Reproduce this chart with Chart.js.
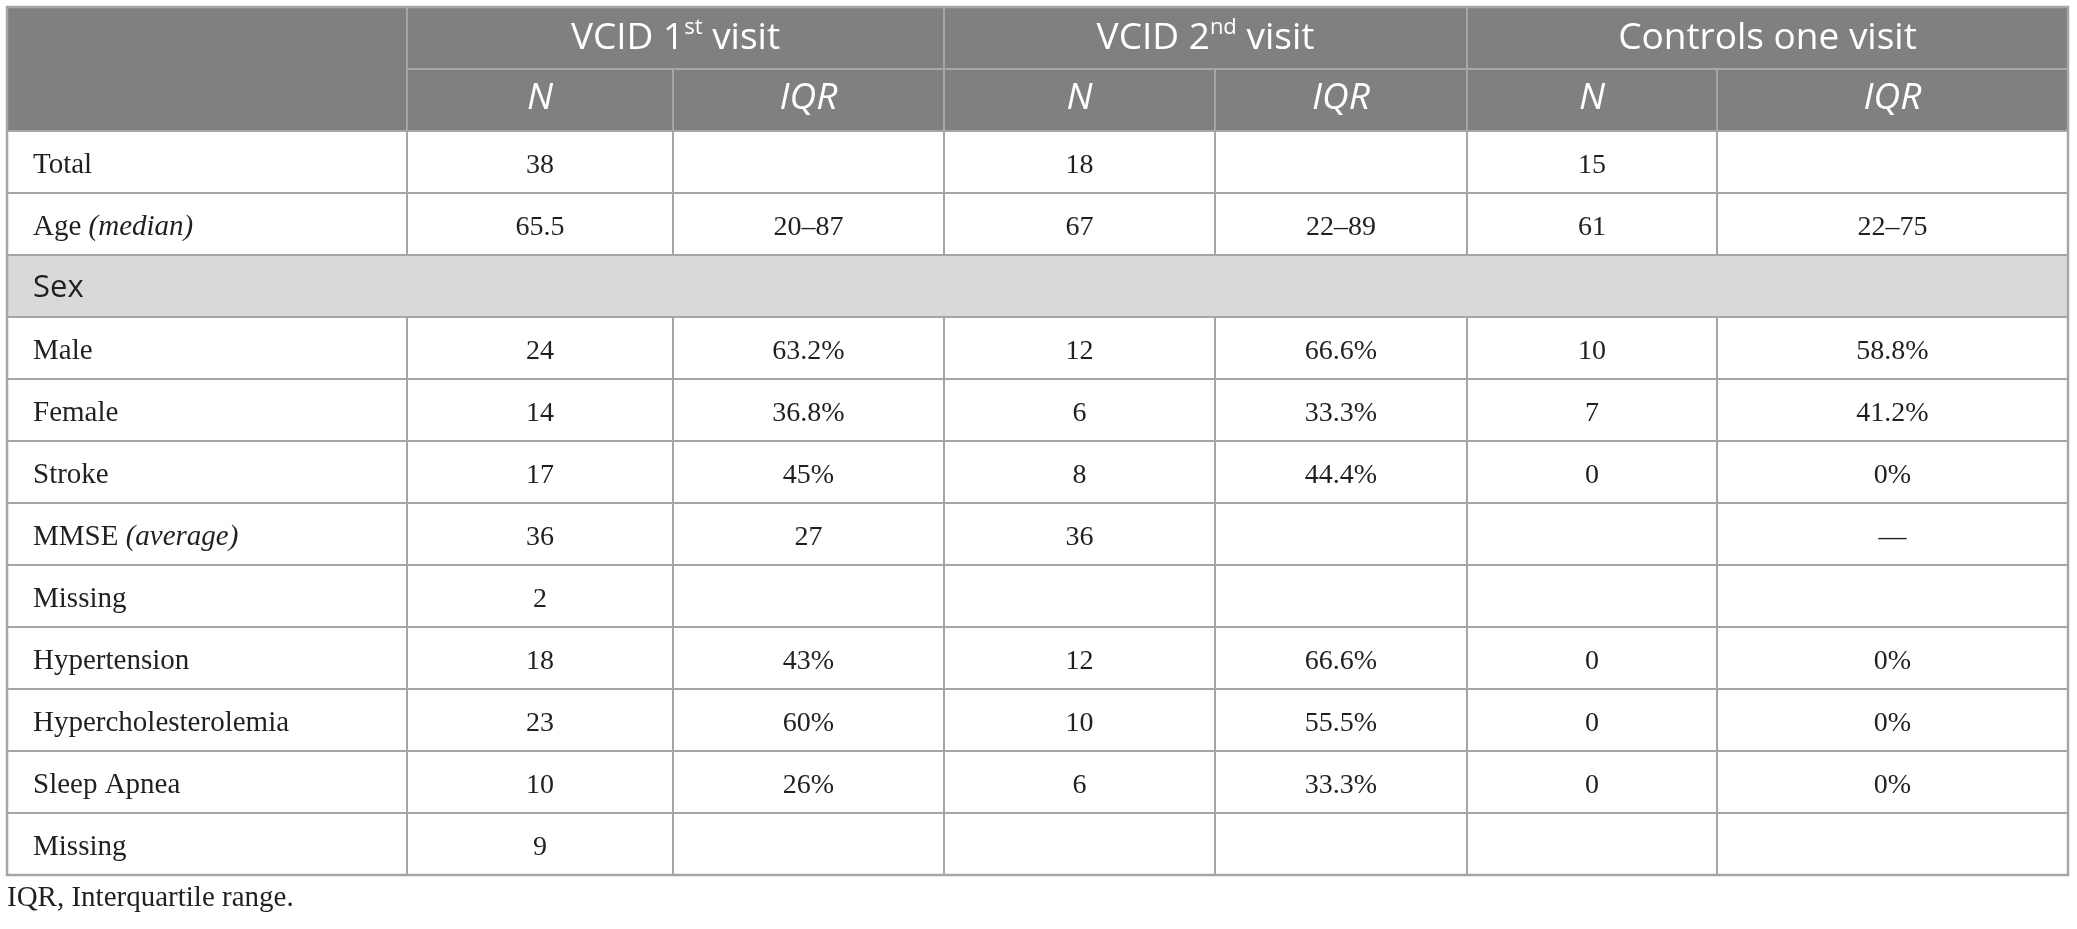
<!DOCTYPE html>
<html>
<head>
<meta charset="utf-8">
<script src="https://cdn.jsdelivr.net/npm/chart.js@4.4.1/dist/chart.umd.min.js"></script>
<style>
  html, body { margin: 0; padding: 0; background: #ffffff; }
  #wrap { width: 2077px; height: 929px; }
</style>
</head>
<body>
<div id="wrap"><canvas id="c" width="2077" height="929"></canvas></div>
<script>
// ---- Table content (data) ----
const groupHeaders = ['VCID 1^st^ visit', 'VCID 2^nd^ visit', 'Controls one visit'];
const subHeaders = ['N', 'IQR'];
const rowLabels = ['Total', 'Age (median)', 'Sex', 'Male', 'Female', 'Stroke', 'MMSE (average)',
                   'Missing', 'Hypertension', 'Hypercholesterolemia', 'Sleep Apnea', 'Missing'];
const sectionRows = ['Sex'];
const vcid1N   = ['38', '65.5', null, '24', '14', '17', '36', '2', '18', '23', '10', '9'];
const vcid1IQR = ['', '20–87', null, '63.2%', '36.8%', '45%', '27', '', '43%', '60%', '26%', ''];
const vcid2N   = ['18', '67', null, '12', '6', '8', '36', '', '12', '10', '6', ''];
const vcid2IQR = ['', '22–89', null, '66.6%', '33.3%', '44.4%', '', '', '66.6%', '55.5%', '33.3%', ''];
const ctrlN    = ['15', '61', null, '10', '7', '0', '', '', '0', '0', '0', ''];
const ctrlIQR  = ['', '22–75', null, '58.8%', '41.2%', '0%', '—', '', '0%', '0%', '0%', ''];
const footnote = 'IQR, Interquartile range.';

// ---- Layout / style (not data) ----
const colWeights = [400, 266, 271, 271, 252, 250, 351];
const valueCols = [vcid1N, vcid1IQR, vcid2N, vcid2IQR, ctrlN, ctrlIQR];
const C = {
  headerBg: '#808080', sectionBg: '#d9d9d9', line: '#a6a6a6', text: '#231f20',
  headFont: '"Open Sans", sans-serif', bodyFont: '"Liberation Serif", "Times New Roman", serif'
};

const yKeys = ['hdr1', 'hdr2'].concat(rowLabels.map((r, i) => i + ':' + r));
const colTotal = colWeights.reduce((a, b) => a + b, 0);
const colEdges = colWeights.reduce((acc, w) => { acc.push(acc[acc.length - 1] + w); return acc; }, [0]);

function parseRuns(str, baseFont, size, italicParens) {
  const runs = [];
  const parts = str.split('^');
  parts.forEach((p, i) => {
    if (!p) return;
    if (i % 2 === 1) { runs.push({ t: p, font: `${Math.round(size * 0.6)}px ${baseFont}`, rise: size * 0.4 }); return; }
    if (italicParens) {
      const re = /(\([^)]*\))/g;
      p.split(re).forEach(q => {
        if (!q) return;
        const it = q.startsWith('(');
        runs.push({ t: q, font: `${it ? 'italic ' : ''}${size}px ${baseFont}`, rise: 0 });
      });
    } else {
      runs.push({ t: p, font: `${size}px ${baseFont}`, rise: 0 });
    }
  });
  return runs;
}

function drawRuns(ctx, runs, x, y, align, color) {
  let total = 0;
  runs.forEach(r => { ctx.font = r.font; r.w = ctx.measureText(r.t).width; total += r.w; });
  let cx = align === 'center' ? x - total / 2 : x;
  ctx.fillStyle = color;
  ctx.textBaseline = 'alphabetic';
  ctx.textAlign = 'left';
  runs.forEach(r => { ctx.font = r.font; ctx.fillText(r.t, cx, y - r.rise); cx += r.w; });
}

const tablePlugin = {
  id: 'tableDraw',
  afterDraw(chart) {
    const ctx = chart.ctx;
    const xs = chart.scales.x, ys = chart.scales.y;
    const X = v => xs.getPixelForValue(v);
    const band = Math.abs(ys.getPixelForValue(1) - ys.getPixelForValue(0));
    const rowTop = i => ys.getPixelForValue(i) - band / 2;
    const rowBot = i => ys.getPixelForValue(i) + band / 2;
    const left = X(0), right = X(colTotal);
    const nRows = yKeys.length;

    ctx.save();
    ctx.fillStyle = C.headerBg;
    ctx.fillRect(left, rowTop(0), right - left, rowBot(1) - rowTop(0));
    rowLabels.forEach((lab, i) => {
      if (sectionRows.includes(lab) && valueCols[0][i] === null) {
        ctx.fillStyle = C.sectionBg;
        ctx.fillRect(left, rowTop(i + 2), right - left, band);
      }
    });

    ctx.strokeStyle = C.line;
    ctx.lineWidth = 2;
    const hl = (x1, x2, y) => { ctx.beginPath(); ctx.moveTo(x1, y); ctx.lineTo(x2, y); ctx.stroke(); };
    const vl = (x, y1, y2) => { ctx.beginPath(); ctx.moveTo(x, y1); ctx.lineTo(x, y2); ctx.stroke(); };
    hl(X(colEdges[1]), right, rowBot(0));
    vl(X(colEdges[1]), rowTop(0), rowBot(1));
    vl(X(colEdges[3]), rowTop(0), rowBot(1));
    vl(X(colEdges[5]), rowTop(0), rowBot(1));
    [2, 4, 6].forEach(k => vl(X(colEdges[k]), rowTop(1), rowBot(1)));
    for (let r = 2; r < nRows; r++) {
      hl(left, right, rowTop(r));
      const isSection = valueCols[0][r - 2] === null;
      if (!isSection) {
        for (let k = 1; k < colEdges.length - 1; k++) vl(X(colEdges[k]), rowTop(r), rowBot(r));
      }
    }
    ctx.lineWidth = 2.5;
    ctx.strokeRect(left, rowTop(0), right - left, rowBot(nRows - 1) - rowTop(0));

    const hSize = 37;
    groupHeaders.forEach((g, gi) => {
      const cx = (X(colEdges[1 + gi * 2]) + X(colEdges[3 + gi * 2])) / 2;
      const cy = ys.getPixelForValue(0);
      drawRuns(ctx, parseRuns(g, C.headFont, hSize, false), cx, cy + 11, 'center', '#ffffff');
    });
    for (let k = 1; k < colEdges.length - 1; k++) {
      const cx = (X(colEdges[k]) + X(colEdges[k + 1])) / 2;
      const cy = ys.getPixelForValue(1);
      drawRuns(ctx, [{ t: subHeaders[(k - 1) % 2], font: `italic ${hSize}px ${C.headFont}`, rise: 0 }], cx, cy + 9, 'center', '#ffffff');
    }

    rowLabels.forEach((lab, i) => {
      const cy = ys.getPixelForValue(i + 2);
      const isSection = valueCols[0][i] === null;
      if (isSection) {
        drawRuns(ctx, [{ t: lab, font: `31px ${C.headFont}`, rise: 0 }], X(colEdges[0]) + 26, cy + 11, 'left', C.text);
        return;
      }
      drawRuns(ctx, parseRuns(lab, C.bodyFont, 29, true), X(colEdges[0]) + 26, cy + 11, 'left', C.text);
      valueCols.forEach((col, k) => {
        const v = col[i];
        if (!v) return;
        const cx = (X(colEdges[k + 1]) + X(colEdges[k + 2])) / 2;
        drawRuns(ctx, [{ t: v, font: `28px ${C.bodyFont}`, rise: 0 }], cx, cy + 11, 'center', C.text);
      });
    });

    drawRuns(ctx, [{ t: footnote, font: `29px ${C.bodyFont}`, rise: 0 }], left, rowBot(nRows - 1) + 31, 'left', C.text);
    ctx.restore();
  }
};

function build() {
  new Chart(document.getElementById('c'), {
    type: 'scatter',
    data: { labels: yKeys, datasets: [] },
    options: {
      responsive: false,
      animation: false,
      devicePixelRatio: 1,
      layout: { padding: { left: 7, top: 7, right: 9, bottom: 54 } },
      plugins: { legend: { display: false }, tooltip: { enabled: false }, title: { display: false } },
      scales: {
        x: { type: 'linear', min: 0, max: colTotal, display: false },
        y: { type: 'category', labels: yKeys, offset: true, display: false }
      }
    },
    plugins: [tablePlugin]
  });
}
if (document.fonts && document.fonts.load) {
  Promise.all([
    document.fonts.load('37px "Open Sans"'),
    document.fonts.load('italic 37px "Open Sans"'),
    document.fonts.load('28px "Liberation Serif"'),
    document.fonts.load('italic 28px "Liberation Serif"')
  ]).then(build, build);
} else { build(); }
</script>
</body>
</html>
